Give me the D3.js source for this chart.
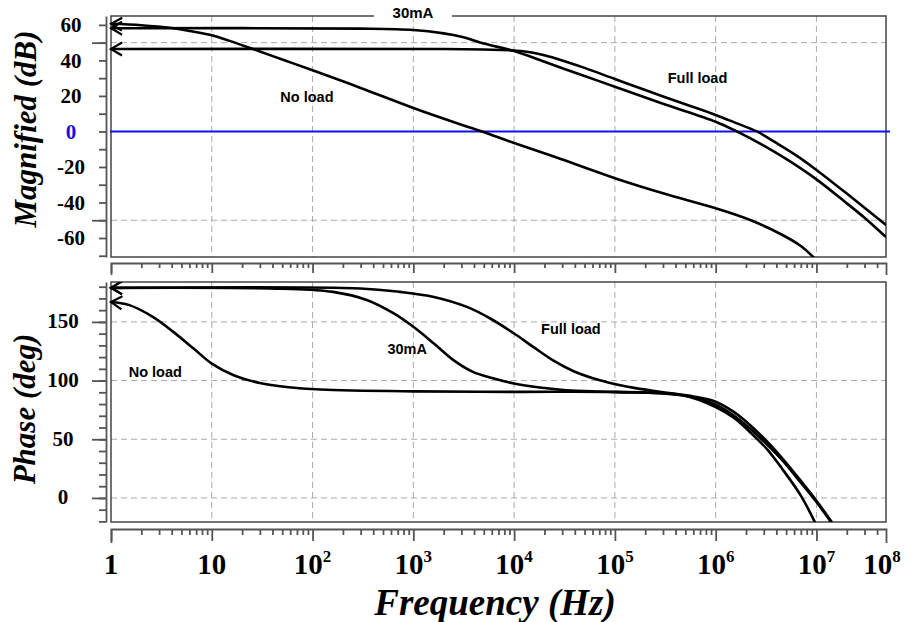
<!DOCTYPE html>
<html>
<head>
<meta charset="utf-8">
<script src="https://cdn.jsdelivr.net/npm/d3@7"></script>
<style>
  body { margin: 0; background: #fff; }
</style>
</head>
<body>
<svg id="chart" width="912" height="622"></svg>
<script>
// ---- data ----
var freqMax = 4.9e7;
var freqTickAt = [1, 10, 100, 1e3, 1e4, 1e5, 1e6, 1e7, freqMax];
var freqTickLabels = ["1", "10", "10^2", "10^3", "10^4", "10^5", "10^6", "10^7", "10^8"];
var gridFreqs = [10, 100, 1e3, 1e4, 1e5, 1e6, 1e7];

var magTickLabels = [60, 40, 20, 0, -20, -40, -60];
var magGrid = [50, -50];
var phaseTickLabels = [150, 100, 50, 0];
var phaseGrid = [150, 100, 50, 0];

// magnitude (dB) vs frequency (Hz)
var magNoLoad = [[1, 60.6], [2, 59.8], [4, 58.2], [6, 56.6], [10, 54.2], [15, 51], [24, 47],
  [50, 40.5], [100, 34.5], [300, 24.5], [1000, 13.2], [3000, 3.8], [4800, 0], [1e4, -6.5],
  [3e4, -15.8], [1e5, -26.3], [3e5, -34.8], [1e6, -43.3], [2.2e6, -49.9], [4.6e6, -58.3],
  [7e6, -64.5], [9.3e6, -70.7], [1.1e7, -75]];
var mag30mA = [[1, 58.1], [300, 57.9], [1000, 57.1], [2000, 55.2], [3000, 53.3], [5000, 49.5],
  [1e4, 45.3], [2e4, 39.2], [5e4, 31.2], [1e5, 25.2], [3e5, 15.6], [1e6, 5.5], [1.62e6, 0],
  [3e6, -8], [5e6, -15.5], [1e7, -27], [2e7, -40.5], [3e7, -48.6], [4.9e7, -59.5]];
var magFullLoad = [[1, 46.4], [2000, 46.4], [5000, 46.1], [1e4, 45.6], [1.5e4, 44.4],
  [2e4, 42.9], [3e4, 40], [5e4, 35.8], [1e5, 29.5], [2e5, 23.3], [5e5, 15.3], [1e6, 9.3],
  [1.6e6, 4.7], [2.56e6, 0], [4e6, -6.5], [6.3e6, -13.5], [1e7, -21.7], [2e7, -35], [3e7, -43],
  [4.9e7, -52.7]];

// phase (deg) vs frequency (Hz)
var phNoLoad = [[1, 167], [1.5, 164.5], [2.6, 154.3], [4.15, 141.5], [6.6, 127.3], [10, 114.5],
  [16.5, 104.6], [30, 98], [55, 94.6], [120, 92.4], [1000, 90.8], [1e4, 90.4], [1e5, 90.2],
  [4.7e5, 87.5], [1e6, 77.5], [1.5e6, 68.5], [2.2e6, 56], [3.2e6, 42], [4.6e6, 24.5], [7e6, 2],
  [9.7e6, -21]];
var ph30mA = [[1, 179], [50, 178.3], [160, 175.6], [350, 168.5], [640, 157.2], [1000, 145.8],
  [1600, 131.6], [2500, 117.4], [3900, 107.4], [6300, 101.8], [1e4, 97.5], [1.8e4, 94.1],
  [3.3e4, 91.8], [7.1e4, 90.7], [2e5, 89.8], [5e5, 87], [1e6, 79.5], [1.5e6, 70.5], [2.2e6, 59],
  [3.2e6, 46], [4.6e6, 32], [7e6, 13], [1e7, -3.5], [1.42e7, -21.5]];
var phFullLoad = [[1, 179], [300, 178.5], [740, 175.6], [1600, 171.3], [3400, 162.8],
  [5800, 152.9], [1e4, 140.1], [1.56e4, 128.5], [2.46e4, 117], [3.9e4, 108], [7.1e4, 100.2],
  [1.1e5, 96.2], [1.6e5, 93.6], [3.3e5, 89.6], [6e5, 86.5], [1e6, 82], [1.5e6, 73.5], [2.2e6, 62],
  [3.2e6, 48.5], [4.6e6, 33.5], [7e6, 14.5], [1e7, -2.5], [1.42e7, -20.5]];

// ---- layout ----
var svg = d3.select("#chart");
var plotL = 111, plotR = 886;
var magTop = 16, magBot = 257;
var phTop = 282, phBot = 522;
var axisX = 106;

var serif = "'Liberation Serif','Times New Roman',serif";
var sans = "'Liberation Sans',Arial,sans-serif";

var x = d3.scaleLog().domain([1, freqMax]).range([plotL, plotR]);
var yMag = d3.scaleLinear().domain([-70.7, 65]).range([magBot, magTop]);
var yPh = d3.scaleLinear().domain([-20.5, 184]).range([phBot, phTop]);

var minorFreqs = [];
for (var k = 0; k < 8; k++) {
  for (var m = 2; m <= 9; m++) {
    if (m * Math.pow(10, k) < freqMax) minorFreqs.push(m * Math.pow(10, k));
  }
}

var defs = svg.append("defs");
defs.append("marker")
  .attr("id", "chev")
  .attr("markerUnits", "userSpaceOnUse")
  .attr("viewBox", "-14 -9 16 18")
  .attr("markerWidth", 16)
  .attr("markerHeight", 18)
  .attr("refX", 0)
  .attr("refY", 0)
  .attr("orient", "auto-start-reverse")
  .append("path")
  .attr("d", "M-11,-6.5L0,0L-11,6.5")
  .attr("fill", "none")
  .attr("stroke", "#000")
  .attr("stroke-width", 2.2);

function drawPanel(y, top, bot, gridVals, id) {
  defs.append("clipPath").attr("id", id)
    .append("rect")
    .attr("x", plotL - 2).attr("y", top)
    .attr("width", plotR - plotL + 2).attr("height", bot - top);

  var g = svg.append("g");
  // dashed grid
  g.selectAll(".vg").data(gridFreqs).enter().append("line")
    .attr("x1", d => x(d)).attr("x2", d => x(d))
    .attr("y1", top).attr("y2", bot)
    .attr("stroke", "#aaa").attr("stroke-dasharray", "6,4");
  g.selectAll(".hg").data(gridVals).enter().append("line")
    .attr("x1", plotL).attr("x2", plotR)
    .attr("y1", d => y(d)).attr("y2", d => y(d))
    .attr("stroke", "#aaa").attr("stroke-dasharray", "6,4");

  // frame
  g.append("rect")
    .attr("x", plotL).attr("y", top)
    .attr("width", plotR - plotL).attr("height", bot - top)
    .attr("fill", "none").attr("stroke", "#444").attr("stroke-width", 1.5);

  // left axis: minor ticks every 10, long ticks at grid values
  var lo = Math.ceil(y.domain()[0] / 10) * 10;
  var hi = Math.floor(y.domain()[1] / 10) * 10;
  var a = svg.append("g").attr("transform", "translate(" + axisX + ",0)");
  a.call(d3.axisLeft(y).tickValues(d3.range(lo, hi + 1, 10)).tickSize(7).tickSizeOuter(0).tickFormat(""));
  a.append("g").call(d3.axisLeft(y).tickValues(gridVals).tickSize(14).tickSizeOuter(0).tickFormat(""))
    .select(".domain").remove();
  a.selectAll("path,line").attr("stroke", "#555").attr("stroke-width", 1.8);
  return g;
}

var line = function (y) {
  return d3.line().x(d => x(d[0])).y(d => y(d[1])).curve(d3.curveCatmullRom.alpha(0.5));
};

// ---- magnitude panel ----
drawPanel(yMag, magTop, magBot, magGrid, "clipMag");
svg.append("line")
  .attr("x1", plotL - 1).attr("x2", plotR + 4)
  .attr("y1", yMag(0)).attr("y2", yMag(0))
  .attr("stroke", "#1010ee").attr("stroke-width", 2);
svg.append("g").attr("clip-path", "url(#clipMag)")
  .selectAll("path").data([magNoLoad, mag30mA, magFullLoad]).enter().append("path")
  .attr("d", line(yMag))
  .attr("fill", "none").attr("stroke", "#000").attr("stroke-width", 2.6)
  .attr("marker-start", "url(#chev)");

// ---- phase panel ----
drawPanel(yPh, phTop, phBot, phaseGrid, "clipPh");
svg.append("g").attr("clip-path", "url(#clipPh)")
  .selectAll("path").data([phNoLoad, ph30mA, phFullLoad]).enter().append("path")
  .attr("d", line(yPh))
  .attr("fill", "none").attr("stroke", "#000").attr("stroke-width", 2.6)
  .attr("marker-start", "url(#chev)");

// ---- frequency axes (between panels and at bottom) ----
function freqAxis(yPos, major, minor) {
  var a = svg.append("g").attr("transform", "translate(0," + yPos + ")");
  a.call(d3.axisBottom(x).tickValues(freqTickAt.slice(0, 8)).tickSize(major).tickSizeOuter(major + 2).tickFormat(""));
  a.append("g").call(d3.axisBottom(x).tickValues(minorFreqs).tickSize(minor).tickFormat(""))
    .select(".domain").remove();
  a.selectAll("path,line").attr("stroke", "#555").attr("stroke-width", 1.8);
}
freqAxis(263, 10, 5);
freqAxis(529, 12, 6);

// ---- tick labels ----
svg.append("g").selectAll("text").data(magTickLabels).enter().append("text")
  .attr("x", 71).attr("y", d => yMag(d)).attr("dy", "0.35em")
  .attr("text-anchor", "middle")
  .attr("font-family", serif).attr("font-weight", "bold").attr("font-size", 21)
  .attr("fill", d => d === 0 ? "#1010ee" : "#000")
  .text(d => d);

svg.append("g").selectAll("text").data(phaseTickLabels).enter().append("text")
  .attr("x", 63).attr("y", d => yPh(d)).attr("dy", "0.3em")
  .attr("text-anchor", "middle")
  .attr("font-family", serif).attr("font-weight", "bold").attr("font-size", 21)
  .text(d => d);

freqTickAt.forEach(function (f, i) {
  var parts = freqTickLabels[i].split("^");
  var t = svg.append("text")
    .attr("x", x(f) - (i === 8 ? 4 : 0)).attr("y", 574)
    .attr("text-anchor", "middle")
    .attr("font-family", serif).attr("font-weight", "bold").attr("font-size", 29);
  t.append("tspan").text(parts[0]);
  if (parts[1]) t.append("tspan").attr("dy", -12).attr("font-size", 17).text(parts[1]);
});

// ---- axis titles ----
svg.append("text")
  .attr("x", 495).attr("y", 615)
  .attr("text-anchor", "middle")
  .attr("font-family", serif).attr("font-weight", "bold").attr("font-style", "italic")
  .attr("font-size", 37)
  .text("Frequency (Hz)");

svg.append("text")
  .attr("transform", "translate(36,129) rotate(-90)")
  .attr("text-anchor", "middle")
  .attr("font-family", serif).attr("font-weight", "bold").attr("font-style", "italic")
  .attr("font-size", 31)
  .text("Magnified (dB)");

svg.append("text")
  .attr("transform", "translate(35,409) rotate(-90)")
  .attr("text-anchor", "middle")
  .attr("font-family", serif).attr("font-weight", "bold").attr("font-style", "italic")
  .attr("font-size", 31)
  .text("Phase (deg)");

// ---- curve annotations ----
var notes = [
  { t: "No load", f: 88, v: 16.8, y: yMag },
  { t: "Full load", f: 6.6e5, v: 27.3, y: yMag },
  { t: "No load", f: 2.75, v: 103, y: yPh },
  { t: "30mA", f: 870, v: 122.5, y: yPh },
  { t: "Full load", f: 3.66e4, v: 139.5, y: yPh }
];
svg.append("g").selectAll("text").data(notes).enter().append("text")
  .attr("x", d => x(d.f)).attr("y", d => d.y(d.v))
  .attr("text-anchor", "middle")
  .attr("font-family", sans).attr("font-weight", "bold").attr("font-size", 14.5)
  .text(d => d.t);

// label sitting on the top frame line
var topLab = svg.append("g");
topLab.append("rect")
  .attr("x", 374).attr("y", magTop - 3).attr("width", 78).attr("height", 6)
  .attr("fill", "#fff");
topLab.append("text")
  .attr("x", 413).attr("y", 18)
  .attr("text-anchor", "middle")
  .attr("font-family", sans).attr("font-weight", "bold").attr("font-size", 15)
  .text("30mA");
</script>
</body>
</html>
